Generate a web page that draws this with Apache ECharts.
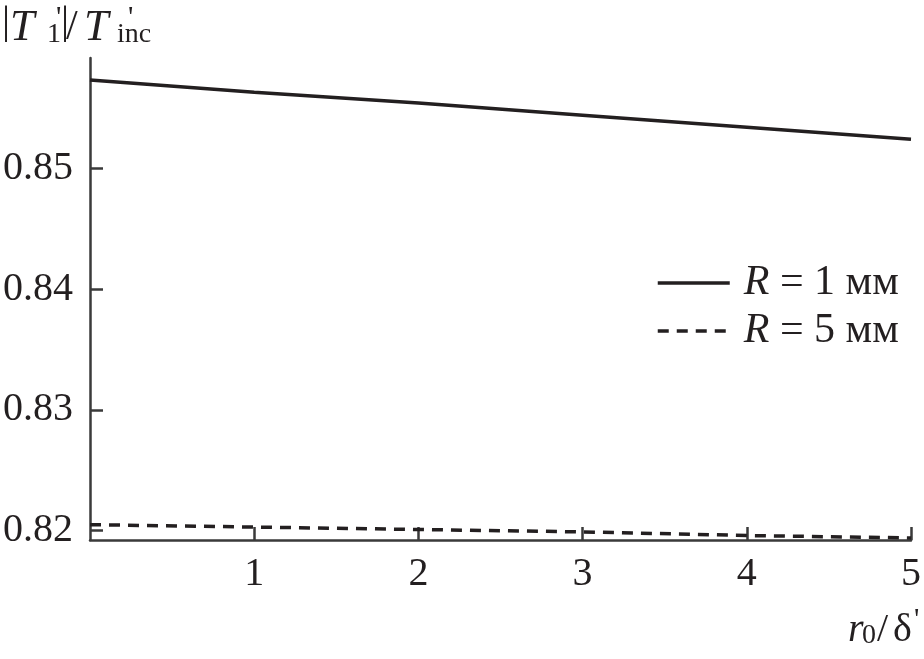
<!DOCTYPE html>
<html><head><meta charset="utf-8">
<script src="https://cdn.jsdelivr.net/npm/echarts@6/dist/echarts.min.js"></script>
<style>html,body{margin:0;padding:0;background:#fff}#c{width:924px;height:659px}</style>
</head><body><div id="c"></div>
<script>
// ---- data ----
const xValues = [0, 1, 2, 3, 4, 5];
const seriesR1 = [0.8573, 0.8563, 0.8554, 0.8544, 0.8534, 0.8524];
const seriesR5 = [0.8205, 0.8203, 0.8201, 0.8199, 0.8196, 0.8194];
const seriesNames = ['R = 1 мм', 'R = 5 мм'];
const xTickValues = [1, 2, 3, 4, 5];
const yTickValues = [0.82, 0.83, 0.84, 0.85];
const xRange = [0, 5];
const yRange = [0.81923, 0.85913];

// ---- chart ----
const FONT = 'Liberation Serif';
const INK = '#231f20';
const AX = '#3a3a3a';
const chart = echarts.init(document.getElementById('c'), null, {renderer: 'canvas'});

function txt(text, x, y, size, italic) {
  return {type: 'text', x: x, y: y, silent: true,
    style: {text: text, fill: INK, font: (italic ? 'italic ' : '') + size + 'px "' + FONT + '"',
      align: 'left', verticalAlign: 'middle'}};
}
function pairs(ys) { return xValues.map((x, i) => [x, ys[i]]); }

const option = {
  animation: false,
  backgroundColor: '#fff',
  grid: {left: 89, right: 11, top: 58, bottom: 119, containLabel: false},
  xAxis: {
    type: 'value', min: xRange[0], max: xRange[1],
    axisLine: {show: true, onZero: false, lineStyle: {color: AX, width: 2.5}},
    axisTick: {show: true, inside: true, length: 13, customValues: xTickValues, lineStyle: {color: AX, width: 2.5}},
    axisLabel: {customValues: xTickValues, margin: 14, color: INK, fontFamily: FONT, fontSize: 40},
    splitLine: {show: false}
  },
  yAxis: {
    type: 'value', min: yRange[0], max: yRange[1],
    axisLine: {show: true, onZero: false, lineStyle: {color: AX, width: 2.5}},
    axisTick: {show: true, inside: true, length: 13, customValues: yTickValues, lineStyle: {color: AX, width: 2.5}},
    axisLabel: {customValues: yTickValues, margin: 17, color: INK, fontFamily: FONT, fontSize: 40,
      formatter: v => v.toFixed(2)},
    splitLine: {show: false}
  },
  legend: {
    orient: 'vertical', left: 656, top: 262, padding: 0,
    itemWidth: 72, itemHeight: 14, itemGap: 6,
    data: seriesNames,
    itemStyle: {opacity: 0},
    lineStyle: {width: 3.5, color: INK},
    formatter: n => n.replace(/^R/, '{i|R}'),
    textStyle: {color: INK, fontFamily: FONT, fontSize: 42, padding: [0, 0, 0, 9],
      rich: {i: {fontStyle: 'italic', fontFamily: FONT, fontSize: 42, color: INK}}}
  },
  series: [
    {name: seriesNames[0], type: 'line', data: pairs(seriesR1), symbol: 'none', showSymbol: false,
      lineStyle: {color: INK, width: 3.5, type: 'solid'}, itemStyle: {color: INK}},
    {name: seriesNames[1], type: 'line', data: pairs(seriesR5), symbol: 'none', showSymbol: false,
      lineStyle: {color: INK, width: 3.5, type: [11, 8]}, itemStyle: {color: INK}}
  ],
  graphic: [
    // y-axis title |T'1|/T'inc
    txt('|', 2, 22, 40, false),
    txt('T', 10, 28, 44, true),
    txt('1', 47, 35, 28, false),
    txt("'", 56, 18, 30, false),
    txt('|', 61, 22, 40, false),
    txt('/', 66, 28, 42, false),
    txt('T', 84, 28, 44, true),
    txt("'", 128, 18, 30, false),
    txt('inc', 117, 35, 28, false),
    // x-axis title r0/δ'
    txt('r', 848, 630, 40, true),
    txt('0', 862, 636, 28, false),
    txt('/', 877, 630, 40, false),
    txt('δ', 893, 630, 40, false),
    txt("'", 914, 620, 30, false)
  ]
};
chart.setOption(option);
</script>
</body></html>
